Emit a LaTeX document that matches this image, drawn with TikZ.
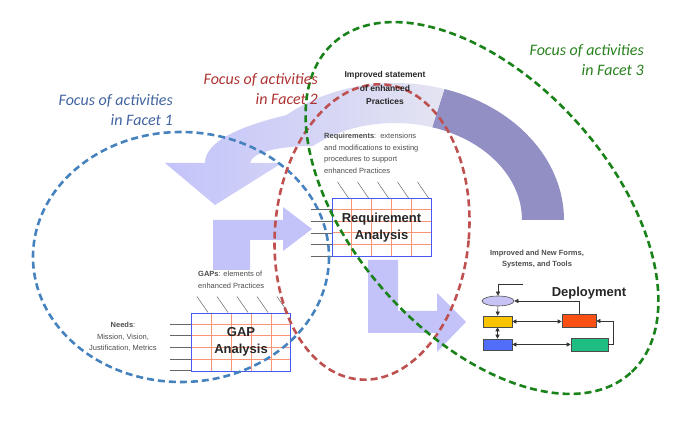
\documentclass[tikz,border=0pt]{standalone}
\usepackage{fontspec}
\setmainfont{Liberation Sans}
\newfontfamily\facetfont{Carlito}
\usetikzlibrary{calc,arrows.meta,shapes.geometric}
\definecolor{lav}{RGB}{195,195,250}
\definecolor{pale}{RGB}{228,228,242}
\definecolor{dpurple}{RGB}{145,143,195}
\definecolor{eblue}{RGB}{70,130,190}
\definecolor{ered}{RGB}{190,80,80}
\definecolor{egreen}{RGB}{25,130,25}
\definecolor{tblue}{RGB}{65,100,160}
\definecolor{tred}{RGB}{175,50,50}
\definecolor{tgreen}{RGB}{40,130,30}
\definecolor{gridc}{RGB}{250,150,120}
\definecolor{boxblue}{RGB}{70,90,240}
\definecolor{dyel}{RGB}{250,195,0}
\definecolor{dblue}{RGB}{80,110,250}
\definecolor{dorange}{RGB}{250,80,20}
\definecolor{dgreen}{RGB}{30,190,130}
\definecolor{dell}{RGB}{200,195,245}
\tikzset{
  focus/.style={dashed,line width=2.6pt,dash pattern=on 7pt off 4pt},
  facet/.style={font=\facetfont\itshape\fontsize{16}{20}\selectfont,align=right,anchor=north east,inner sep=0},
  small/.style={font=\fontsize{7.5}{11.5}\selectfont,text=black!70,inner sep=0},
  gridbox/.style={draw=boxblue,line width=0.9pt,minimum width=99pt,minimum height=58pt,inner sep=0,font=\bfseries\fontsize{13}{17.5}\selectfont,align=center},
  dbox/.style={draw=black!70,line width=0.6pt,minimum width=29pt,minimum height=11pt,inner sep=0},
  darr/.style={{Triangle[length=4pt,width=4pt]}-{Triangle[length=4pt,width=4pt]},black!80,line width=0.6pt},
  sarr/.style={-{Triangle[length=4pt,width=4pt]},black!80,line width=0.6pt}
}
\begin{document}
\begin{tikzpicture}[x=1pt,y=-1pt]
\useasboundingbox (0,0) rectangle (691,438);
% big arc
\fill[dpurple] plot[domain=0:73,samples=40] ({395+169*cos(\x)},{220-137*sin(\x)}) -- plot[domain=73:0,samples=40] ({395+127*cos(\x)},{220-97*sin(\x)}) -- cycle;
\shade[left color=lav,right color=pale] plot[domain=73:130,samples=30] ({395+169*cos(\x)},{220-137*sin(\x)}) .. controls (245,125) and (205,140) .. (205,163) -- (165,163) -- (215,205) -- (282,163) -- (250,163) .. controls (252,152) and (280,146) .. (313,146) -- plot[domain=130:73,samples=30] ({395+127*cos(\x)},{220-97*sin(\x)}) -- cycle;
% arrows
\fill[lav] (213,220)--(283,220)--(283,207)--(312,229)--(283,251)--(283,240)--(250,240)--(250,270)--(213,270)--cycle;
\fill[lav] (368,260)--(398,260)--(398,311)--(437,311)--(437,293)--(466,322)--(437,352)--(437,333)--(368,333)--cycle;
% grid boxes
\node[gridbox] (req) at (381.5,227.5) {};
\node[gridbox] (gap) at (241,342) {};
\foreach \b in {req,gap}{
  \foreach \i in {1,...,4}{
    \draw[gridc,line width=0.7pt] ($(\b.north west)+(\i*20,0)$) -- ($(\b.south west)+(\i*20,0)$);
    \draw[gridc,line width=0.7pt] ($(\b.north west)+(0,\i*11.6)$) -- ($(\b.north east)+(0,\i*11.6)$);
  }
  \foreach \i in {0,...,4}{
    \draw[black!60,line width=0.5pt] ($(\b.north west)+(6+\i*20,-16)$) -- ($(\b.north west)+(17+\i*20,0)$);
  }
  \foreach \i in {1,...,5}{
    \draw[black!60,line width=0.6pt] ($(\b.north west)+(-21,\i*11.6)$) -- ($(\b.north west)+(0,\i*11.6)$);
  }
  \node[gridbox,fill=none] at (\b) {};
}
\node[gridbox,draw=none,text=black!85] at (req) {Requirement\\Analysis};
\node[gridbox,draw=none,text=black!85] at (gap) {GAP\\Analysis};
% deployment flowchart
\node[ellipse,draw=black!70,fill=dell,minimum width=32pt,minimum height=10pt,inner sep=0,line width=0.6pt] (e1) at (498,301) {};
\node[dbox,fill=dyel] (y1) at (497.5,321.5) {};
\node[dbox,fill=dblue] (b1) at (497.5,344.5) {};
\node[dbox,fill=dorange,minimum width=34pt,minimum height=13pt] (o1) at (579,321) {};
\node[dbox,fill=dgreen,minimum width=37pt,minimum height=13pt] (g1) at (589.5,344.5) {};
\coordinate (in1) at (523,284);
\draw[sarr] (in1) -| (e1.north);
\draw[sarr] (e1) -- (y1);
\draw[darr] (y1) -- (b1);
\draw[darr] (y1) -- (o1.west |- y1);
\draw[darr] (b1) -- (g1.west |- b1);
\draw[sarr] (o1.north) |- (e1.east);
\draw[sarr] (g1.east) -- ++(5,0) |- (o1.east);
\node[font=\bfseries\fontsize{13}{15}\selectfont,inner sep=0,text=black!85] (dep) at (589,293) {Deployment};
% ellipses
\draw[focus,eblue] (181,257) ellipse [x radius=148,y radius=125];
\draw[focus,ered,rotate around={-5:(372,232)}] (372,232) ellipse [x radius=97,y radius=148];
\draw[focus,egreen,rotate around={-48:(482,208)}] (482,208) ellipse [x radius=222,y radius=128];
% texts
\node[facet,text=tblue] (f1) at (173,94) {Focus of activities\\in Facet 1};
\node[facet,text=tred] (f2) at (318,73) {Focus of activities\\in Facet 2};
\node[facet,text=tgreen] (f3) at (644,44) {Focus of activities\\in Facet 3};
\node[font=\bfseries\fontsize{8.5}{13.5}\selectfont,align=center,inner sep=0,text=black!85] (imp) at (385,88) {Improved statement\\of enhanced\\Practices};
\node[small,align=left,anchor=north west] (reqt) at (324,133) {\textbf{Requirements}:\, extensions\\and modifications to existing\\procedures to support\\enhanced Practices};
\node[small,align=left,anchor=north west] (gapt) at (198,271) {\textbf{GAPs}: elements of\\enhanced Practices};
\node[small,align=center] (needs) at (123,337) {\textbf{Needs}:\\Mission, Vision,\\Justification, Metrics};
\node[small,align=center,font=\bfseries\fontsize{7.5}{11}\selectfont] (tools) at (537,259) {Improved and New Forms,\\Systems, and Tools};
\end{tikzpicture}
\end{document}
